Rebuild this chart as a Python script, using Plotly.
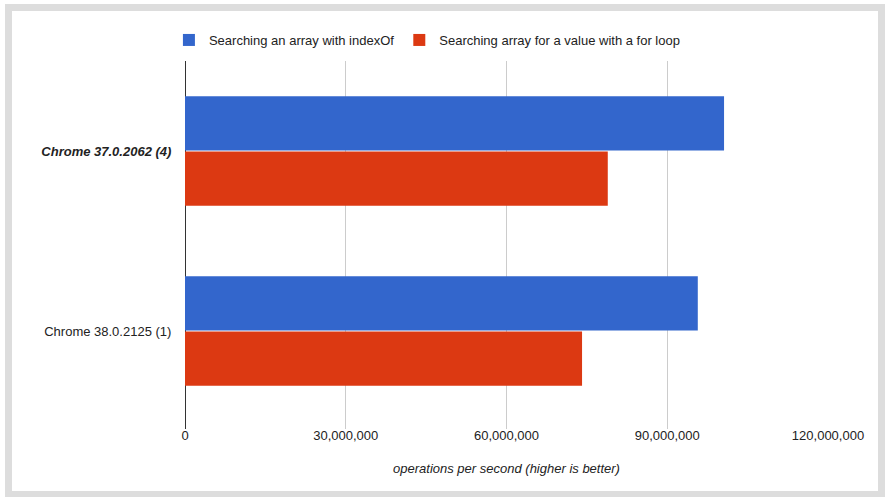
import plotly.graph_objects as go

# browsers tested (top to bottom)
categories = ["Chrome 37.0.2062 (4)", "Chrome 38.0.2125 (1)"]
category_labels = ["<b><i>Chrome 37.0.2062 (4)</i></b>", "Chrome 38.0.2125 (1)"]

series_names = ["Searching an array with indexOf",
                "Searching array for a value with a for loop"]
index_of_ops = [100600000, 95700000]
for_loop_ops = [78900000, 74100000]

x_ticks = [0, 30000000, 60000000, 90000000, 120000000]

W, H = 887, 497
L, R, T, B = 185, 59, 61, 68
pw, ph = W - L - R, H - T - B

def px(x):
    return (x - L) / pw

def py(y):
    return (H - B - y) / ph

fig = go.Figure()
fig.add_trace(go.Bar(y=categories, x=index_of_ops, name=series_names[0],
                     orientation="h", marker=dict(color="#3366cc", line_width=0)))
fig.add_trace(go.Bar(y=categories, x=for_loop_ops, name=series_names[1],
                     orientation="h", marker=dict(color="#dc3912", line_width=0)))

# grey frame round the chart
fig.add_shape(type="rect", xref="paper", yref="paper", layer="below",
              x0=px(5), x1=px(885), y0=py(497), y1=py(4),
              fillcolor="#dddddd", line_width=0)
fig.add_shape(type="rect", xref="paper", yref="paper", layer="below",
              x0=px(12), x1=px(878), y0=py(491), y1=py(11),
              fillcolor="white", line_width=0)

fig.update_layout(
    width=W, height=H,
    margin=dict(l=L, r=R, t=T, b=B, pad=0, autoexpand=False),
    paper_bgcolor="white", plot_bgcolor="rgba(0,0,0,0)",
    font=dict(family="Liberation Sans, Arial", size=13, color="#222222"),
    barmode="group", bargap=0.385, bargroupgap=0.02,
    showlegend=True,
    legend=dict(orientation="h", x=-0.025, xanchor="left", y=py(40), yanchor="middle",
                font=dict(size=13, color="#222222"), traceorder="normal",
                bgcolor="rgba(0,0,0,0)"),
    xaxis=dict(range=[0, 120000000], tickvals=x_ticks, tickformat=",d",
               showgrid=True, gridcolor="#cccccc", gridwidth=1,
               zeroline=True, zerolinecolor="#333333", zerolinewidth=1,
               showline=False, ticks="", fixedrange=True, ticklabelstandoff=-3,
               automargin=False,
               title=dict(text="<i>operations per second (higher is better)</i>",
                          font=dict(size=13, color="#222222"), standoff=21)),
    yaxis=dict(tickvals=categories, ticktext=category_labels,
               range=[1.544, -0.5], showgrid=False, zeroline=False,
               showline=False, ticks="outside", ticklen=10, tickcolor="rgba(0,0,0,0)",
               fixedrange=True, automargin=False),
)

# drop the page's default body margin so the chart sits at the window corner
fig.write_html("out.html", config={"displayModeBar": False},
               post_script="document.body.style.margin='0';")
